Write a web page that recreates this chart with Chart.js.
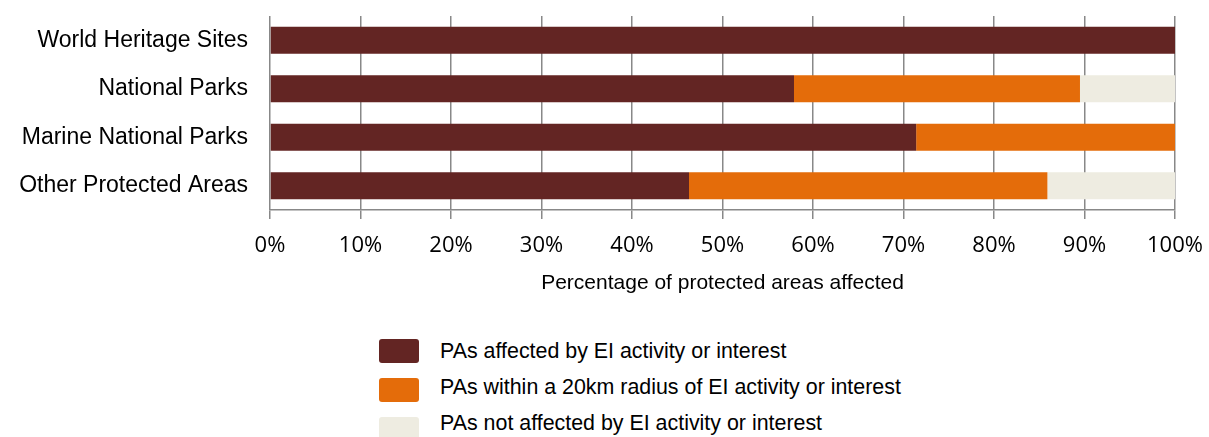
<!DOCTYPE html>
<html>
<head>
<meta charset="utf-8">
<script src="https://cdn.jsdelivr.net/npm/chart.js@4"></script>
<style>
  html, body { margin: 0; padding: 0; background: #fff; }
  #wrap { position: relative; width: 1209px; height: 437px; overflow: hidden; }
  #c { position: absolute; left: 0; top: 0; }
  .box { position: absolute; left: 379px; width: 40px; height: 24px; border-radius: 3px; }
  .lab { position: absolute; left: 440px; height: 24px; line-height: 24px; font-family: "Liberation Sans", Arial, sans-serif; font-size: 21.4px; color: #000; white-space: nowrap; }
</style>
</head>
<body>
<div id="wrap">
  <canvas id="c" width="1209" height="300" style="width:1209px;height:300px"></canvas>
</div>
<script>
const categories = ['World Heritage Sites', 'National Parks', 'Marine National Parks', 'Other Protected Areas'];
const affected = [100, 57.9, 71.4, 46.3];
const within20km = [0, 31.6, 28.6, 39.6];
const notAffected = [0, 10.5, 0, 14.1];
const seriesNames = ['PAs affected by EI activity or interest', 'PAs within a 20km radius of EI activity or interest', 'PAs not affected by EI activity or interest'];
const xTicks = [0, 10, 20, 30, 40, 50, 60, 70, 80, 90, 100];
const colors = ['#632523', '#E46C0A', '#EEECE1'];

const data = {
  labels: categories,
  datasets: [affected, within20km, notAffected].map((vals, i) => ({
    label: seriesNames[i],
    data: vals,
    backgroundColor: colors[i],
    borderWidth: 0,
    barPercentage: 0.56,
    categoryPercentage: 1
  }))
};

const chart = new Chart(document.getElementById('c'), {
  type: 'bar',
  data,
  options: {
    indexAxis: 'y',
    responsive: false,
    animation: false,
    layout: { padding: { left: 0, right: 34, top: 16, bottom: 0 } },
    plugins: { legend: { display: false }, tooltip: { enabled: false } },
    scales: {
      x: {
        stacked: true,
        min: 0, max: 100,
        afterBuildTicks: (s) => { s.ticks = xTicks.map(v => ({ value: v })); },
        afterFit: (s) => { s.height = 90; s.paddingLeft = 0; s.paddingRight = 0; },
        grid: { color: '#888888', lineWidth: 1.5, tickLength: 9, drawTicks: true },
        border: { color: '#888888', width: 1.5 },
        ticks: {
          color: '#000',
          padding: 14,
          font: { family: '"Open Sans", sans-serif', size: 22 },
          callback: (v) => v + '%'
        },
        title: {
          display: true,
          text: 'Percentage of protected areas affected',
          color: '#000',
          font: { family: '"Liberation Sans", Arial, sans-serif', size: 21 },
          padding: { top: 4, bottom: 4 }
        }
      },
      y: {
        stacked: true,
        afterFit: (s) => { s.width = 270; s.paddingTop = 0; s.paddingBottom = 0; },
        grid: { display: false },
        border: { display: false },
        ticks: {
          color: '#000',
          padding: 14,
          font: { family: '"Liberation Sans", Arial, sans-serif', size: 23 }
        }
      }
    }
  }
});

const wrap = document.getElementById('wrap');
chart.data.datasets.forEach((ds, i) => {
  const box = document.createElement('div');
  box.className = 'box';
  box.style.top = (339 + i * 39) + 'px';
  box.style.background = ds.backgroundColor;
  const txt = document.createElement('div');
  txt.className = 'lab';
  txt.style.top = (339 + i * 36) + 'px';
  txt.textContent = ds.label;
  wrap.appendChild(box);
  wrap.appendChild(txt);
});
</script>
</body>
</html>
